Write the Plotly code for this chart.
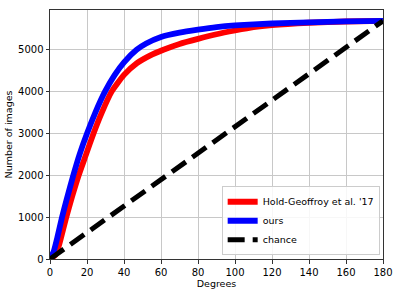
import plotly.graph_objects as go

degrees_prev = [0, 3, 5, 8.8, 12, 15.5, 19.5, 23.5, 28, 33.3, 40, 47, 54, 61.3, 70, 80, 90, 100, 110, 120, 140, 160, 180]
values_prev = [0, 100, 350, 1000, 1500, 2000, 2500, 3000, 3500, 4000, 4400, 4680, 4860, 5000, 5140, 5260, 5370, 5460, 5540, 5590, 5645, 5675, 5690]

degrees_ours = [0, 2, 4, 6.5, 9, 12.6, 16, 20, 24.5, 29.7, 35, 40, 46.8, 52, 60, 70, 80, 90, 100, 120, 140, 160, 180]
values_ours = [0, 180, 520, 1000, 1420, 2000, 2500, 3000, 3500, 4000, 4400, 4700, 5000, 5150, 5307, 5410, 5480, 5540, 5580, 5628, 5655, 5680, 5690]

degrees_chance = [0, 180]
values_chance = [0, 5690]

fig = go.Figure()
fig.add_trace(go.Scatter(x=degrees_prev, y=values_prev, mode="lines", name="Hold-Geoffroy et al. '17",
                         line=dict(color="#ff0000", width=5.8, shape="spline", smoothing=0.5)))
fig.add_trace(go.Scatter(x=degrees_ours, y=values_ours, mode="lines", name="ours",
                         line=dict(color="#0000ff", width=5.8, shape="spline", smoothing=0.5)))
fig.add_trace(go.Scatter(x=degrees_chance, y=values_chance, mode="lines", name="chance",
                         line=dict(color="#000000", width=5, dash="17px,8px")))

axis_common = dict(showline=True, linecolor="#333", linewidth=1, mirror=True,
                   showgrid=True, gridcolor="#c8c8c8", gridwidth=1, automargin=False,
                   ticks="outside", ticklen=3.5, tickcolor="#333", zeroline=False,
                   tickfont=dict(family="DejaVu Sans", size=10, color="#000"))

fig.update_layout(
    width=399, height=294,
    margin=dict(l=50, r=16, t=10, b=35),
    plot_bgcolor="white", paper_bgcolor="white",
    font=dict(family="DejaVu Sans", size=9.5, color="#000"),
    xaxis=dict(range=[0, 180], tickvals=list(range(0, 181, 20)),
               title=dict(text="Degrees", font=dict(size=9.5), standoff=3), **axis_common),
    yaxis=dict(range=[0, 5950], tickvals=[0, 1000, 2000, 3000, 4000, 5000],
               title=dict(text="Number of images", font=dict(size=9.5), standoff=3), **axis_common),
    legend=dict(x=0.99, y=0.015, xanchor="right", yanchor="bottom",
                bgcolor="rgba(255,255,255,0.85)", bordercolor="#ccc", borderwidth=1,
                font=dict(size=9.5), tracegroupgap=0, itemwidth=30),
    showlegend=True,
)

fig.write_html("out.html", config={"displayModeBar": False})
with open("out.html", encoding="utf-8") as f:
    html = f.read()
html = html.replace("<body>", '<body style="margin:0;padding:0;">', 1)
with open("out.html", "w", encoding="utf-8") as f:
    f.write(html)
